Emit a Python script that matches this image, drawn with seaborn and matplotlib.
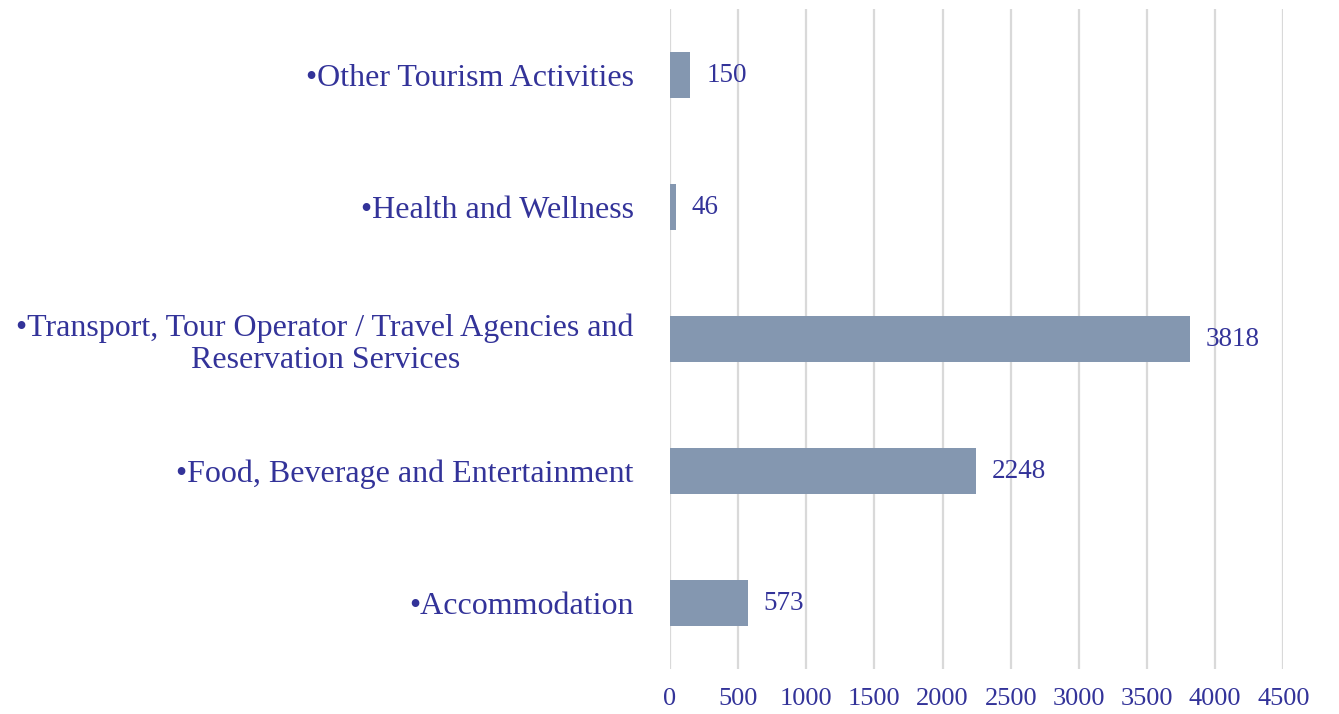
import pandas as pd
import seaborn as sns
from matplotlib import pyplot as plt

# Data (top to bottom as in the chart)
categories = [
    '•Other Tourism Activities',
    '•Health and Wellness',
    '•Transport, Tour Operator / Travel Agencies and\nReservation Services',
    '•Food, Beverage and Entertainment',
    '•Accommodation',
]
values = [150, 46, 3818, 2248, 573]
x_ticks = [0, 500, 1000, 1500, 2000, 2500, 3000, 3500, 4000, 4500]

df = pd.DataFrame({'category': categories, 'value': values})

text_color = '#333399'
bar_color = '#8497B0'

sns.set_theme(style='white')
plt.rcParams['font.family'] = ['Liberation Serif', 'DejaVu Serif']

fig = plt.figure(figsize=(13.39, 7.14), dpi=100)
ax = fig.add_axes([0.5004, 0.063, 0.458, 0.924])

sns.barplot(data=df, x='value', y='category', orient='h', color=bar_color,
            saturation=1, width=0.35, linewidth=0, ax=ax)

# Value labels at bar ends
for i, v in enumerate(values):
    ax.text(v + 115, i, str(v), va='center', ha='left',
            fontsize=19.5, color=text_color)

ax.set_xlim(0, 4500)
ax.set_xticks(x_ticks)
ax.set_xlabel('')
ax.set_ylabel('')
ax.grid(axis='x', color='#d9d9d9', linewidth=1.6)
ax.set_axisbelow(True)
for s in ax.spines.values():
    s.set_visible(False)

ax.tick_params(axis='x', length=0, pad=14, labelsize=19, labelcolor=text_color)
ax.tick_params(axis='y', length=0, pad=26, labelsize=23, labelcolor=text_color)
for lbl in ax.get_yticklabels():
    lbl.set_multialignment('center')
    lbl.set_linespacing(1.15)

fig.savefig('out.png', dpi=100)
